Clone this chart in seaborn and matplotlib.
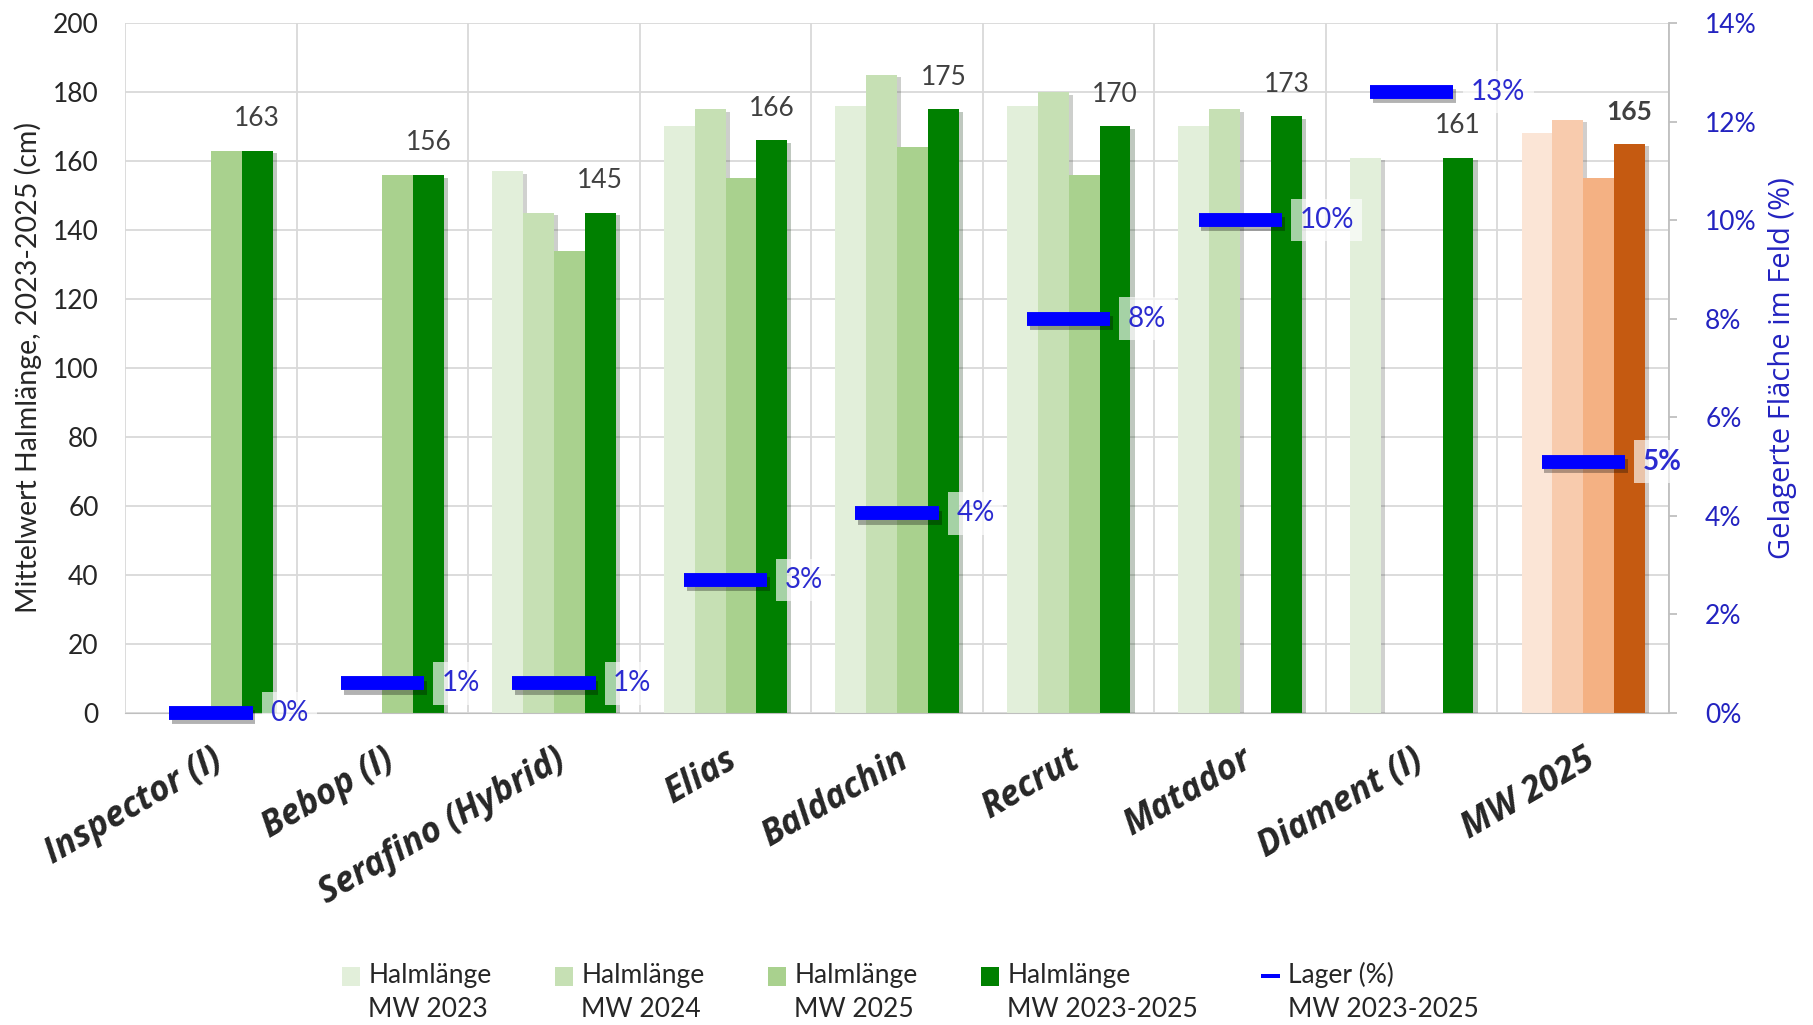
import numpy as np
import pandas as pd
import matplotlib
matplotlib.use("Agg")
import matplotlib.pyplot as plt
import matplotlib.patheffects as pe
from matplotlib.patches import Patch, Rectangle
from matplotlib.legend_handler import HandlerBase
from matplotlib.ticker import FuncFormatter
import seaborn as sns

# Daten
sorten = ["Inspector (I)", "Bebop (I)", "Serafino (Hybrid)", "Elias", "Baldachin",
          "Recrut", "Matador", "Diament (I)", "MW 2025"]
hl_2023 = [np.nan, np.nan, 157, 170, 176, 176, 170, 161, 168]
hl_2024 = [np.nan, np.nan, 145, 175, 185, 180, 175, np.nan, 172]
hl_2025 = [163, 156, 134, 155, 164, 156, np.nan, np.nan, 155]
hl_mw = [163, 156, 145, 166, 175, 170, 173, 161, 165]
lager = [0.0, 0.6, 0.6, 2.7, 4.05, 8.0, 10.0, 12.6, 5.1]

serien = ["Halmlänge\nMW 2023", "Halmlänge\nMW 2024", "Halmlänge\nMW 2025", "Halmlänge\nMW 2023-2025"]
gruen = ["#E2EFDA", "#C6E0B4", "#A9D18E", "#008000"]
orange = ["#FBE5D6", "#F8CBAD", "#F4B183", "#C55A11"]

df = pd.DataFrame({"Sorte": sorten, serien[0]: hl_2023, serien[1]: hl_2024,
                   serien[2]: hl_2025, serien[3]: hl_mw})
df_long = df.melt(id_vars="Sorte", var_name="Serie", value_name="Halmlaenge").dropna()

sns.set_style("white")
plt.rcParams["font.family"] = ["Lato", "DejaVu Sans"]

fig = plt.figure(figsize=(18.13, 10.25), dpi=100)
ax = fig.add_axes([0.069, 0.3044, 0.8516, 0.6732])

sns.barplot(data=df_long, x="Sorte", y="Halmlaenge", hue="Serie", order=sorten,
            hue_order=serien, palette=gruen, saturation=1, width=0.72, linewidth=0,
            legend=False, ax=ax)

shadow = [pe.SimplePatchShadow(offset=(3, -2), alpha=0.25), pe.Normal()]
for cont, oc in zip(ax.containers, orange):
    for bar in cont:
        bar.set_path_effects(shadow)
        if bar.get_x() > 7.5:
            bar.set_facecolor(oc)

# Datenbeschriftung Mittelwert
labs = ax.bar_label(ax.containers[3], labels=[f"{v:.0f}" for v in hl_mw],
                    padding=14, fontsize=19, color="#404040")
labs[-1].set_fontweight("bold")

ax.set_ylim(0, 200)
ax.set_xlim(-0.5, 8.5)
ax.set_yticks(np.arange(0, 201, 20))
ax.set_xticks(np.arange(-0.5, 9, 1), minor=True)
ax.grid(axis="y", color="#D9D9D9", lw=1.3)
ax.grid(axis="x", which="minor", color="#D9D9D9", lw=1.3)
ax.set_axisbelow(True)
for s in ["top", "right", "left"]:
    ax.spines[s].set_visible(False)
ax.spines["bottom"].set_color("#BFBFBF")
ax.tick_params(axis="y", length=0, pad=19, labelsize=19, labelcolor="#262626")
ax.tick_params(axis="x", which="both", length=0, pad=21)
ax.set_xlabel("")
ax.set_ylabel("Mittelwert Halmlänge, 2023-2025 (cm)", fontsize=20.5, labelpad=8, color="#262626")
ax.set_xticks(range(len(sorten)))
ax.set_xticklabels(sorten, rotation=30, ha="right", va="top", rotation_mode="anchor",
                   fontsize=25, fontweight="bold", fontstyle="italic",
                   family=["Open Sans", "DejaVu Sans"])

# Lager auf zweiter Achse
ax2 = ax.twinx()
ax2.plot(range(len(sorten)), lager, ls="none", marker="_", ms=60, mew=10,
         color="#0000FF", clip_on=False, zorder=4,
         path_effects=[pe.SimpleLineShadow(offset=(2, -3), alpha=0.3), pe.Normal()])
for i, v in enumerate(lager):
    t = ax2.text(i + 0.345, v, f"{v:.0f}%", ha="left", va="center", fontsize=20,
                 color="#2B2BD0", zorder=5,
                 bbox=dict(boxstyle="square,pad=0.3", fc="white", ec="none", alpha=0.65))
    if i == len(lager) - 1:
        t.set_fontweight("bold")
ax2.set_ylim(0, 14)
ax2.set_yticks(np.arange(0, 15, 2))
ax2.yaxis.set_major_formatter(FuncFormatter(lambda v, p: f"{v:.0f}%"))
for s in ["top", "left", "bottom"]:
    ax2.spines[s].set_visible(False)
ax2.spines["right"].set_color("#BFBFBF")
ax2.spines["right"].set_linewidth(1.3)
ax2.tick_params(axis="y", length=6, width=1.3, color="#BFBFBF", pad=20,
                labelsize=19, labelcolor="#2323C0")
ax2.set_ylabel("Gelagerte Fläche im Feld (%)", fontsize=21, color="#2323C0",
               labelpad=8, family=["Open Sans", "DejaVu Sans"])
ax2.grid(False)


# Legendensymbol auf Höhe der ersten Zeile
class TopBox(HandlerBase):
    def __init__(self, h=1.0, shift=12):
        super().__init__()
        self.h = h
        self.shift = shift

    def create_artists(self, legend, orig_handle, xdescent, ydescent, width, height,
                       fontsize, trans):
        hh = height * self.h
        y0 = -ydescent + self.shift + (height - hh) / 2
        r = Rectangle((-xdescent, y0), width, hh, facecolor=orig_handle.get_facecolor(),
                      edgecolor="none", transform=trans)
        return [r]


handles = [Patch(facecolor=c, edgecolor="none") for c in gruen]
lager_handle = Patch(facecolor="#0000FF", edgecolor="none")
handles.append(lager_handle)
labels = serien + ["Lager (%)\nMW 2023-2025"]
hmap = {h: TopBox() for h in handles[:4]}
hmap[lager_handle] = TopBox(h=0.22)
leg = fig.legend(handles, labels, loc="center", bbox_to_anchor=(0.502, 0.032), ncol=5,
                 frameon=False, fontsize=19, handlelength=0.7, handleheight=0.75,
                 handletextpad=0.3, columnspacing=2.4, handler_map=hmap)
for t in leg.get_texts():
    t.set_linespacing(1.45)
    t.set_color("#262626")

fig.savefig("out.png", dpi=100)
